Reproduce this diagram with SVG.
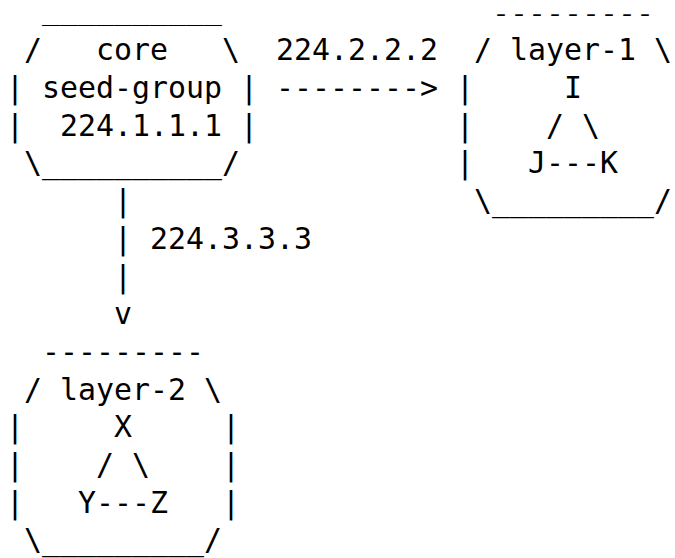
<svg xmlns="http://www.w3.org/2000/svg" width="675" height="558" viewBox="0 0 675 558">
<style>
  text { font-family: "DejaVu Sans Mono", "Liberation Mono", monospace; font-size: 29.9px; fill: #000000; white-space: pre; }
  text.edge { font-size: 22px; }
</style>
<rect x="0" y="0" width="675" height="558" fill="#ffffff"/>
<g id="core">
  <text class="edge" transform="translate(42,21) scale(1.3591,1)">__________</text>
  <text x="24" y="60.3" xml:space="preserve">/   core   \</text>
  <text x="6" y="98" xml:space="preserve">| seed-group |</text>
  <text x="6" y="135.7" xml:space="preserve">|  224.1.1.1 |</text>
  <text x="24" y="173.4">\__________/</text>
</g>
<g id="layer-1">
  <text class="edge" transform="translate(492,20.6) scale(1.3591,1)">---------</text>
  <text x="474" y="60.3" xml:space="preserve">/ layer-1 \</text>
  <text x="456" y="98" xml:space="preserve">|     I</text>
  <text x="456" y="135.7" xml:space="preserve">|    / \</text>
  <text x="456" y="173.4" xml:space="preserve">|   J---K</text>
  <text x="474" y="211.1">\_________/</text>
</g>
<g id="layer-2">
  <text x="42" y="361.9">---------</text>
  <text x="24" y="399.6" xml:space="preserve">/ layer-2 \</text>
  <text x="6" y="437.3" xml:space="preserve">|     X     |</text>
  <text x="6" y="475" xml:space="preserve">|    / \    |</text>
  <text x="6" y="512.7" xml:space="preserve">|   Y---Z   |</text>
  <text x="24" y="550.4">\_________/</text>
</g>
<g id="connectors">
  <text x="276" y="60.3">224.2.2.2</text>
  <text x="276" y="98">--------&gt;</text>
  <text x="114" y="211.1">|</text>
  <text x="114" y="248.8">|</text>
  <text x="150" y="248.8">224.3.3.3</text>
  <text x="114" y="286.5">|</text>
  <text x="114" y="324.2">v</text>
</g>
</svg>
